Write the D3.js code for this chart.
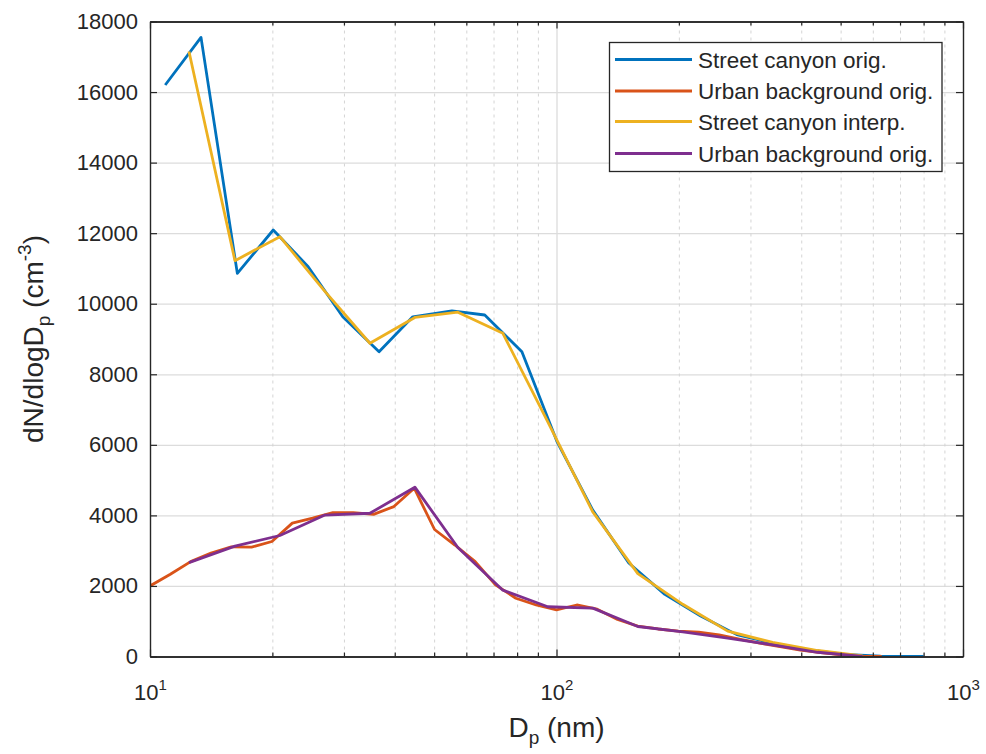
<!DOCTYPE html>
<html>
<head>
<meta charset="utf-8">
<script src="https://cdn.jsdelivr.net/npm/d3@7"></script>
<style>
  html, body { margin: 0; padding: 0; background: #ffffff; }
  svg { display: block; font-family: "Liberation Sans", Arial, Helvetica, sans-serif; }
</style>
</head>
<body>
<svg id="chart" width="986" height="754"></svg>
<script>
// ---------------- DATA ----------------
const streetOrigD = [10.9, 13.35, 16.4, 20.1, 24.5, 29.8, 36.6, 44.3, 55.3, 66.6, 82.2, 100.2, 122.8, 150.6, 184.7, 226.3, 277.6, 340.2, 417.3, 511.7, 627.2, 800];
const streetOrigN = [16200, 17550, 10860, 12090, 11050, 9630, 8640, 9630, 9800, 9680, 8640, 6100, 4150, 2650, 1760, 1150, 620, 380, 190, 60, 10, 0];

const urbanOrigD = [10, 11.22, 12.59, 14.13, 15.85, 17.78, 19.95, 22.39, 25.12, 28.18, 31.62, 35.48, 39.81, 44.67, 50.12, 56.23, 63.10, 70.79, 79.43, 89.13, 100, 112.2, 125.9, 141.3, 158.5, 177.8, 199.5, 223.9, 251.2, 281.8, 316.2, 354.8, 398.1, 446.7, 501.2, 562.3, 631.0];
const urbanOrigN = [2000, 2330, 2690, 2930, 3110, 3100, 3260, 3780, 3920, 4080, 4080, 4030, 4250, 4770, 3600, 3160, 2690, 2030, 1650, 1460, 1320, 1460, 1340, 1050, 860, 780, 720, 690, 610, 490, 380, 280, 180, 110, 50, 10, 0];

const interpD = [12.47, 16.18, 20.87, 26.93, 34.75, 44.83, 57.19, 73.79, 95.19, 122.8, 158.5, 204.5, 263.8, 340.2, 439.0, 566.3];
const streetInterpN = [17150, 11220, 11900, 10350, 8880, 9610, 9760, 9160, 6650, 4100, 2350, 1480, 720, 400, 170, 20];
const urbanInterpN = [2660, 3130, 3430, 4010, 4060, 4800, 3090, 1880, 1410, 1370, 850, 700, 520, 330, 120, 0];

const seriesNames = ["Street canyon orig.", "Urban background orig.", "Street canyon interp.", "Urban background orig."];
const seriesColors = ["#0072BD", "#D95319", "#EDB120", "#7E2F8E"];

const yTicks = [0, 2000, 4000, 6000, 8000, 10000, 12000, 14000, 16000, 18000];
const xMajorTicks = [10, 100, 1000];
const xMajorExp = ["1", "2", "3"];
const xMinorTicks = [20, 30, 40, 50, 60, 70, 80, 90, 200, 300, 400, 500, 600, 700, 800, 900];

// ---------------- LAYOUT ----------------
const pL = 150, pR = 963, pT = 21.5, pB = 656.5;
const W = pR - pL, H = pB - pT;
const axisColor = "#262626";
const fontTick = 22, fontLabel = 28, fontLegend = 22.5;

const svg = d3.select("#chart");
const x = d3.scaleLog().domain([10, 1000]).range([pL, pR]);
const y = d3.scaleLinear().domain([0, 18000]).range([pB, pT]);

// ---------------- GRID ----------------
const grid = svg.append("g");
grid.append("g")
  .attr("transform", `translate(${pL},0)`)
  .call(d3.axisLeft(y).tickValues(yTicks).tickSize(-W).tickFormat(""))
  .call(g => g.select(".domain").remove())
  .call(g => g.selectAll("line").attr("stroke", "#dcdcdc").attr("stroke-width", 1.3));
grid.append("g")
  .attr("transform", `translate(0,${pB})`)
  .call(d3.axisBottom(x).tickValues(xMinorTicks).tickSize(-H).tickFormat(""))
  .call(g => g.select(".domain").remove())
  .call(g => g.selectAll("line").attr("stroke", "#d4d4d4").attr("stroke-width", 1).attr("stroke-dasharray", "3,4"));
grid.append("g")
  .attr("transform", `translate(0,${pB})`)
  .call(d3.axisBottom(x).tickValues([100]).tickSize(-H).tickFormat(""))
  .call(g => g.select(".domain").remove())
  .call(g => g.selectAll("line").attr("stroke", "#dcdcdc").attr("stroke-width", 1.3));

// ---------------- LINES ----------------
const line = d3.line().x(d => x(d[0])).y(d => y(d[1]));
const series = [
  d3.zip(streetOrigD, streetOrigN),
  d3.zip(urbanOrigD, urbanOrigN),
  d3.zip(interpD, streetInterpN),
  d3.zip(interpD, urbanInterpN)
];
svg.append("clipPath").attr("id", "clip").append("rect")
  .attr("x", pL).attr("y", pT - 3).attr("width", W).attr("height", H + 3);
const plot = svg.append("g").attr("clip-path", "url(#clip)");
series.forEach((s, i) => {
  plot.append("path")
    .datum(s)
    .attr("d", line)
    .attr("fill", "none")
    .attr("stroke", seriesColors[i])
    .attr("stroke-width", 2.8)
    .attr("stroke-linejoin", "round")
    .attr("stroke-linecap", "butt");
});

// ---------------- AXES ----------------
function styleAxis(g) {
  g.select(".domain").attr("stroke", axisColor).attr("stroke-width", 1.4);
  g.selectAll(".tick line").attr("stroke", axisColor).attr("stroke-width", 1.2);
  g.selectAll("text").attr("fill", axisColor).attr("font-size", fontTick)
    .attr("font-family", "'Liberation Sans', Arial, Helvetica, sans-serif");
}
svg.append("g").attr("transform", `translate(${pL},0)`)
  .call(d3.axisLeft(y).tickValues(yTicks).tickSizeInner(-7).tickSizeOuter(0).tickPadding(12).tickFormat(d3.format("d")))
  .call(styleAxis);
svg.append("g").attr("transform", `translate(${pR},0)`)
  .call(d3.axisRight(y).tickValues(yTicks).tickSizeInner(-7).tickSizeOuter(0).tickFormat(""))
  .call(styleAxis);
svg.append("g").attr("transform", `translate(0,${pB})`)
  .call(d3.axisBottom(x).tickValues(xMinorTicks).tickSizeInner(-4).tickSizeOuter(0).tickFormat(""))
  .call(styleAxis);
svg.append("g").attr("transform", `translate(0,${pT})`)
  .call(d3.axisTop(x).tickValues(xMinorTicks).tickSizeInner(-4).tickSizeOuter(0).tickFormat(""))
  .call(styleAxis);
svg.append("g").attr("transform", `translate(0,${pT})`)
  .call(d3.axisTop(x).tickValues(xMajorTicks).tickSizeInner(-7).tickSizeOuter(0).tickFormat(""))
  .call(styleAxis);
const xAx = svg.append("g").attr("transform", `translate(0,${pB})`)
  .call(d3.axisBottom(x).tickValues(xMajorTicks).tickSizeInner(-7).tickSizeOuter(0).tickPadding(0).tickFormat(""))
  .call(styleAxis);
xAx.selectAll(".tick text").each(function(d, i) {
  const t = d3.select(this);
  t.attr("y", 43.5).attr("dy", null).attr("text-anchor", "middle");
  t.append("tspan").text("10");
  t.append("tspan").text(xMajorExp[i]).attr("font-size", 15).attr("dy", -10);
});

// ---------------- AXIS LABELS ----------------
const xl = svg.append("text")
  .attr("x", (pL + pR) / 2).attr("y", 737)
  .attr("text-anchor", "middle").attr("fill", axisColor).attr("font-size", fontLabel);
xl.append("tspan").text("D");
xl.append("tspan").text("p").attr("font-size", 19).attr("dy", 7);
xl.append("tspan").text(" (nm)").attr("dy", -7);

const yl = svg.append("text")
  .attr("transform", `translate(43,${(pT + pB) / 2}) rotate(-90)`)
  .attr("text-anchor", "middle").attr("fill", axisColor).attr("font-size", fontLabel);
yl.append("tspan").text("dN/dlogD");
yl.append("tspan").text("p").attr("font-size", 19).attr("dy", 7);
yl.append("tspan").text(" (cm").attr("dy", -7);
yl.append("tspan").text("-3").attr("font-size", 19).attr("dy", -12);
yl.append("tspan").text(")").attr("dy", 12);

// ---------------- LEGEND ----------------
const lg = svg.append("g");
lg.append("rect")
  .attr("x", 609.5).attr("y", 42.5).attr("width", 332.5).attr("height", 129)
  .attr("fill", "#ffffff").attr("stroke", axisColor).attr("stroke-width", 1.3);
const rowY = [59.5, 91, 121.5, 153.5];
seriesNames.forEach((name, i) => {
  lg.append("line")
    .attr("x1", 615).attr("x2", 692).attr("y1", rowY[i]).attr("y2", rowY[i])
    .attr("stroke", seriesColors[i]).attr("stroke-width", 2.8);
  lg.append("text")
    .attr("x", 698).attr("y", rowY[i]).attr("dy", "0.36em")
    .attr("fill", axisColor).attr("font-size", fontLegend).text(name);
});
</script>
</body>
</html>
